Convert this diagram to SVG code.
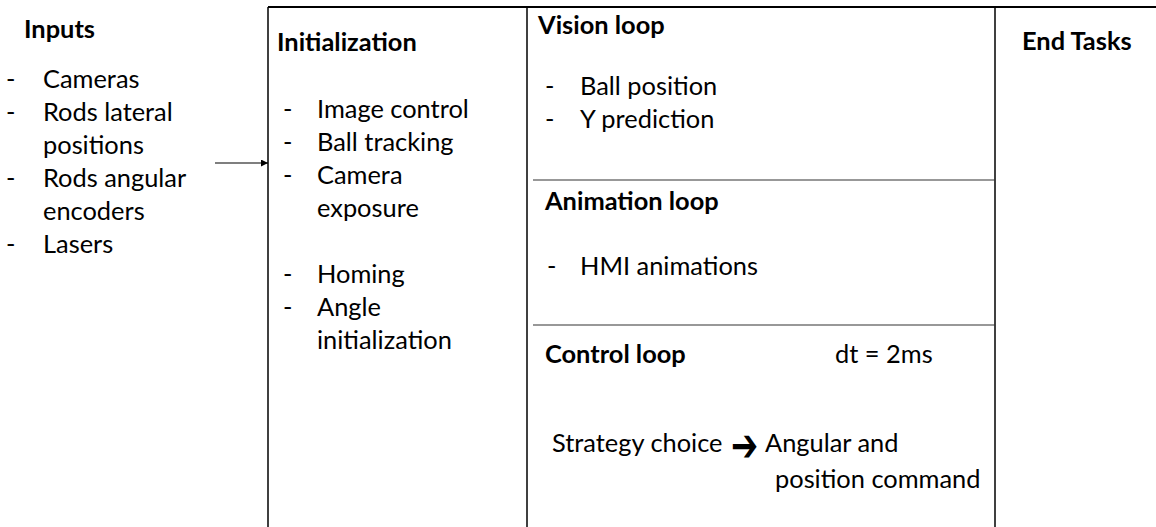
<svg xmlns="http://www.w3.org/2000/svg" width="1156" height="527" viewBox="0 0 1156 527">
<style>
text{font-family:Lato,"Open Sans","Liberation Sans",sans-serif;font-size:25.4px;fill:#000}
.b{font-weight:bold}
.frame{stroke:#000;stroke-width:1.5;fill:none}
.div{stroke:#333;stroke-width:1.2;fill:none}
.conn{stroke:#000;stroke-width:1.2;fill:none}
</style>
<defs>
<marker id="ah" viewBox="0 0 10 10" refX="10" refY="5" markerWidth="7" markerHeight="7" markerUnits="userSpaceOnUse" orient="auto">
<path d="M0,0 L10,5 L0,10 z" fill="#000"/>
</marker>
</defs>
<rect width="1156" height="527" fill="#fff"/>
<g id="frame">
<line class="frame" x1="268" y1="7" x2="1156" y2="7" style="stroke-width:2"/>
<line class="frame" x1="268" y1="7" x2="268" y2="527"/>
<line class="frame" x1="527" y1="7" x2="527" y2="527"/>
<line class="frame" x1="995" y1="7" x2="995" y2="527"/>
<line class="div" x1="533" y1="180" x2="995" y2="180"/>
<line class="div" x1="533" y1="325" x2="995" y2="325"/>
</g>
<g id="inputs">
<text class="b" x="24" y="38">Inputs</text>
<text x="6" y="88">-</text><text x="43" y="88">Cameras</text>
<text x="6" y="121">-</text><text x="43" y="121">Rods lateral</text>
<text x="43" y="154">positions</text>
<text x="6" y="187">-</text><text x="43" y="187">Rods angular</text>
<text x="43" y="220">encoders</text>
<text x="6" y="253">-</text><text x="43" y="253">Lasers</text>
</g>
<g id="initialization">
<text class="b" x="277" y="51">Initialization</text>
<text x="283" y="118">-</text><text x="317" y="118">Image control</text>
<text x="283" y="151">-</text><text x="317" y="151">Ball tracking</text>
<text x="283" y="184">-</text><text x="317" y="184">Camera</text>
<text x="317" y="217">exposure</text>
<text x="283" y="283">-</text><text x="317" y="283">Homing</text>
<text x="283" y="316">-</text><text x="317" y="316">Angle</text>
<text x="317" y="349">initialization</text>
</g>
<g id="vision-loop">
<text class="b" x="538" y="34">Vision loop</text>
<text x="545" y="95">-</text><text x="580" y="95">Ball position</text>
<text x="545" y="128">-</text><text x="580" y="128">Y prediction</text>
</g>
<g id="animation-loop">
<text class="b" x="545" y="210">Animation loop</text>
<text x="547" y="275">-</text><text x="580" y="275">HMI animations</text>
</g>
<g id="control-loop">
<text class="b" x="545" y="363">Control loop</text>
<text x="835" y="363">dt = 2ms</text>
<text x="552" y="452">Strategy choice</text>
<text transform="translate(731,446) scale(1.2,1.7)" x="0" y="9" style="font-family:'DejaVu Sans',sans-serif;font-size:27px">➔</text>
<text x="765" y="452">Angular and</text>
<text x="775" y="488">position command</text>
</g>
<g id="end-tasks">
<text class="b" x="1022" y="50">End Tasks</text>
</g>
<g id="connectors">
<line class="conn" x1="215" y1="163" x2="268" y2="163" marker-end="url(#ah)"/>
</g>
</svg>
